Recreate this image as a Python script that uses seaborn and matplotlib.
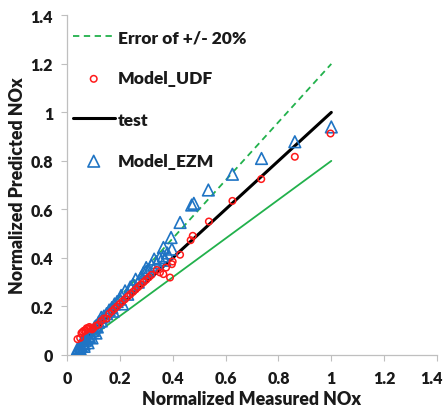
import matplotlib
matplotlib.use("Agg")
import matplotlib.pyplot as plt
import matplotlib.transforms as mtransforms
import seaborn as sns
import pandas as pd
import numpy as np

sns.set_style("white")
plt.rcParams["font.family"] = ["Lato", "DejaVu Sans"]
plt.rcParams["font.weight"] = "bold"

# Model_UDF predictions (red circles)
udf_measured = [0.04, 0.05, 0.055, 0.06, 0.065, 0.07, 0.075, 0.08, 0.085, 0.09,
                0.095, 0.10, 0.11, 0.12, 0.13, 0.14, 0.15, 0.16, 0.17, 0.18,
                0.19, 0.20, 0.21, 0.22, 0.23, 0.24, 0.25, 0.26, 0.27, 0.28,
                0.29, 0.30, 0.31, 0.32, 0.34, 0.352, 0.365, 0.375, 0.39, 0.397,
                0.40, 0.428, 0.468, 0.476, 0.537, 0.626, 0.735, 0.862, 0.997]
udf_predicted = [0.065, 0.07, 0.09, 0.095, 0.10, 0.10, 0.11, 0.11, 0.115, 0.11,
                 0.105, 0.11, 0.12, 0.125, 0.14, 0.15, 0.15, 0.17, 0.18, 0.19,
                 0.20, 0.21, 0.22, 0.23, 0.24, 0.25, 0.26, 0.27, 0.28, 0.29,
                 0.30, 0.31, 0.32, 0.33, 0.35, 0.34, 0.333, 0.36, 0.319, 0.374,
                 0.385, 0.413, 0.473, 0.491, 0.550, 0.635, 0.725, 0.817, 0.913]

# Model_EZM predictions (blue triangles)
ezm_measured = [0.04, 0.045, 0.05, 0.055, 0.06, 0.06, 0.065, 0.07, 0.07, 0.075,
                0.08, 0.085, 0.09, 0.095, 0.10, 0.105, 0.11, 0.115, 0.12, 0.13,
                0.13, 0.14, 0.15, 0.16, 0.17, 0.175, 0.18, 0.19, 0.20, 0.205,
                0.21, 0.22, 0.23, 0.24, 0.25, 0.26, 0.27, 0.28, 0.29, 0.30,
                0.30, 0.31, 0.32, 0.33, 0.34, 0.35, 0.365, 0.365, 0.37, 0.38,
                0.397, 0.394, 0.428, 0.472, 0.48, 0.535, 0.626, 0.736, 0.862, 1.0,
                0.05, 0.065, 0.08, 0.095, 0.11]
ezm_predicted = [0.025, 0.03, 0.04, 0.035, 0.05, 0.06, 0.045, 0.06, 0.07, 0.065,
                 0.08, 0.075, 0.09, 0.10, 0.10, 0.115, 0.12, 0.115, 0.135, 0.14,
                 0.155, 0.16, 0.17, 0.185, 0.195, 0.18, 0.21, 0.22, 0.23, 0.245,
                 0.21, 0.264, 0.25, 0.28, 0.29, 0.312, 0.30, 0.32, 0.34, 0.36,
                 0.345, 0.35, 0.37, 0.395, 0.38, 0.40, 0.443, 0.408, 0.39, 0.42,
                 0.436, 0.484, 0.546, 0.618, 0.625, 0.68, 0.745, 0.81, 0.879, 0.94,
                 0.025, 0.035, 0.05, 0.07, 0.09]

# Reference lines: 1:1 ("test") and +/-20% error band
line_x = [0.05, 1.0]
ratio_test = 1.0
ratio_upper = 1.2
ratio_lower = 0.8

xticks = [0, 0.2, 0.4, 0.6, 0.8, 1, 1.2, 1.4]
yticks = [0, 0.2, 0.4, 0.6, 0.8, 1, 1.2, 1.4]
tick_text = ["0", "0.2", "0.4", "0.6", "0.8", "1", "1.2", "1.4"]

green = "#22b14c"
red = "#ff1a1a"
blue = "#1f74c4"
text_color = "#1a1a1a"

fig = plt.figure(figsize=(4.46, 4.10), dpi=100)
ax = fig.add_axes([0.150, 0.132, 0.830, 0.828])

lx = np.array(line_x)
df_up = pd.DataFrame({"x": lx, "y": lx * ratio_upper})
df_lo = pd.DataFrame({"x": lx, "y": lx * ratio_lower})
df_t = pd.DataFrame({"x": lx, "y": lx * ratio_test})

sns.lineplot(data=df_up, x="x", y="y", ax=ax, color=green, lw=1.3,
             linestyle=(0, (3.5, 2.5)), label="Error of +/- 20%")
sns.lineplot(data=df_lo, x="x", y="y", ax=ax, color=green, lw=1.3)
sns.lineplot(data=df_t, x="x", y="y", ax=ax, color="black", lw=2.2, label="test")

udf = pd.DataFrame({"m": udf_measured, "p": udf_predicted})
ezm = pd.DataFrame({"m": ezm_measured, "p": ezm_predicted})
sns.scatterplot(data=ezm, x="m", y="p", ax=ax, marker="^", s=70,
                facecolors="none", edgecolor=blue, linewidth=1.2,
                label="Model_EZM", zorder=3)
sns.scatterplot(data=udf, x="m", y="p", ax=ax, marker="o", s=22,
                facecolors="none", edgecolor=red, linewidth=1.1,
                label="Model_UDF", zorder=4)

ax.set_xlim(0, 1.4)
ax.set_ylim(0, 1.4)
ax.set_xticks(xticks)
ax.set_yticks(yticks)
ax.set_xticklabels(tick_text)
ax.set_yticklabels(tick_text)
ax.tick_params(axis="both", labelsize=11.5, labelcolor=text_color, length=4,
               width=0.8, direction="out", color="#bfbfbf")
ax.tick_params(axis="x", pad=7)
ax.tick_params(axis="y", pad=6)
for t in ax.get_xticklabels() + ax.get_yticklabels():
    t.set_fontweight("heavy")
# keep the last x tick label inside the figure
last = ax.get_xticklabels()[-1]
last.set_transform(last.get_transform() +
                   mtransforms.ScaledTranslation(-6 / 100, 0, fig.dpi_scale_trans))
ax.xaxis.set_ticks_position("bottom")
ax.yaxis.set_ticks_position("left")

for s in ["top", "right"]:
    ax.spines[s].set_visible(False)
for s in ["left", "bottom"]:
    ax.spines[s].set_color("#bfbfbf")
    ax.spines[s].set_linewidth(0.9)

ax.set_xlabel("Normalized Measured NOx", fontsize=12.8, fontweight="heavy",
              color=text_color, labelpad=3)
ax.set_ylabel("Normalized Predicted NOx", fontsize=12.8, fontweight="heavy",
              color=text_color, labelpad=3)

handles, labels = ax.get_legend_handles_labels()
order = ["Error of +/- 20%", "Model_UDF", "test", "Model_EZM"]
hmap = dict(zip(labels, handles))
leg = ax.legend([hmap[k] for k in order], order, loc="upper left",
                bbox_to_anchor=(-0.012, 0.99), frameon=False,
                prop={"weight": "heavy", "size": 12.5}, labelspacing=1.45,
                handlelength=2.4, handletextpad=0.2, borderaxespad=0.2)
for t in leg.get_texts():
    t.set_color(text_color)

fig.savefig("out.png", dpi=100)
